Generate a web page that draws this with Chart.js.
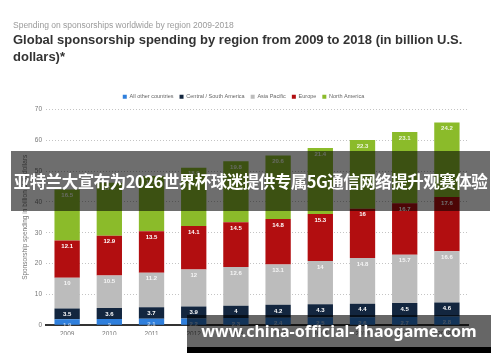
<!DOCTYPE html>
<html lang="en">
<head>
  <meta charset="UTF-8" />
  <title>Global sponsorship spending by region</title>
  <script src="https://cdn.jsdelivr.net/npm/chart.js"></script>
  <style>
    body {
      margin: 0;
      width: 500px;
      height: 362px;
      background: #fff;
      font-family: 'Liberation Sans', Arial, sans-serif;
      position: relative;
      overflow: hidden;
    }
    #wrap { position: absolute; left: 0; top: 0; width: 500px; height: 362px; }
    .sub {
      position: absolute; left: 13px; top: 20px;
      font-size: 8.5px; color: #9a9a9a; white-space: nowrap;
    }
    .titulo {
      position: absolute; left: 13px; top: 31px;
      font-size: 13px; font-weight: bold; color: #333; line-height: 17px;
      white-space: nowrap;
    }
    .faixa {
      position: absolute; left: 11px; top: 151px; width: 479px; height: 60px;
      background: rgba(0, 0, 0, 0.57);
      color: #fff; font-weight: bold; font-size: 16.5px;
      font-family: 'Noto Sans CJK SC', sans-serif;
      display: flex; align-items: center; justify-content: center;
      white-space: nowrap; letter-spacing: -0.5px;
    }
    .url {
      position: absolute; left: 187px; top: 315px; width: 304px; height: 32px;
      background: rgba(0, 0, 0, 0.6);
      border-bottom: 6px solid #000;
      color: #fff; font-weight: bold; font-size: 16px;
      font-family: 'Noto Sans', sans-serif;
      display: flex; align-items: center; justify-content: center;
      white-space: nowrap;
    }
  </style>
</head>
<body>
  <div id="wrap"><canvas id="grafico"></canvas></div>
  <div class="sub">Spending on sponsorships worldwide by region 2009-2018</div>
  <div class="titulo">Global sponsorship spending by region from 2009 to 2018 (in billion U.S.<br>dollars)*</div>
  <div class="faixa">亚特兰大宣布为2026世界杯球迷提供专属5G通信网络提升观赛体验</div>
  <div class="url">www.china-official-1haogame.com</div>

  <script>
    const anos = ['2009', '2010', '2011', '2012', '2013', '2014', '2015', '2016', '2017', '2018**'];
    const outrosPaises = [1.9, 2, 2.1, 2.2, 2.3, 2.4, 2.5, 2.6, 2.7, 2.8];
    const americaCentralSul = [3.5, 3.6, 3.7, 3.9, 4, 4.2, 4.3, 4.4, 4.5, 4.6];
    const asiaPacifico = [10, 10.5, 11.2, 12, 12.6, 13.1, 14, 14.8, 15.7, 16.6];
    const europa = [12.1, 12.9, 13.5, 14.1, 14.5, 14.8, 15.3, 16, 16.7, 17.6];
    const americaNorte = [16.5, 17.2, 17.9, 18.9, 19.8, 20.6, 21.4, 22.3, 23.1, 24.2];
    const ticksY = [0, 10, 20, 30, 40, 50, 60, 70];

    // rotulos brancos no topo de cada segmento
    const rotulos = {
      id: 'rotulos',
      afterDatasetsDraw(chart) {
        const ctx = chart.ctx;
        ctx.save();
        ctx.font = 'bold 6px "Liberation Sans", Arial, sans-serif';
        ctx.textAlign = 'center';
        ctx.textBaseline = 'middle';
        chart.data.datasets.forEach((ds, i) => {
          const meta = chart.getDatasetMeta(i);
          ctx.fillStyle = ds.corRotulo;
          meta.data.forEach((bar, j) => {
            ctx.fillText(String(ds.data[j]), bar.x, bar.y + 6);
          });
        });
        ctx.restore();
      }
    };

    new Chart(document.getElementById('grafico'), {
      type: 'bar',
      data: {
        labels: anos,
        datasets: [
          { label: 'All other countries', data: outrosPaises, backgroundColor: '#2f7fdc', corRotulo: 'rgba(255,255,255,0.6)' },
          { label: 'Central / South America', data: americaCentralSul, backgroundColor: '#13263f', corRotulo: '#ffffff' },
          { label: 'Asia Pacific', data: asiaPacifico, backgroundColor: '#bcbcbc', corRotulo: 'rgba(255,255,255,0.85)' },
          { label: 'Europe', data: europa, backgroundColor: '#b20e10', corRotulo: '#ffffff' },
          { label: 'North America', data: americaNorte, backgroundColor: '#8bbb2a', corRotulo: 'rgba(255,255,255,0.85)' }
        ]
      },
      options: {
        responsive: true,
        maintainAspectRatio: false,
        animation: false,
        layout: { padding: { top: 88, left: 19, right: 32, bottom: 27 } },
        datasets: { bar: { barPercentage: 0.6, categoryPercentage: 1 } },
        plugins: {
          legend: {
            position: 'top',
            labels: {
              boxWidth: 4, boxHeight: 4, padding: 6, color: '#666',
              font: { size: 5.5, family: '"Liberation Sans", Arial, sans-serif' }
            }
          },
          tooltip: { enabled: false }
        },
        scales: {
          x: {
            stacked: true,
            grid: { display: false },
            border: { color: '#333', width: 2 },
            ticks: { color: '#777', font: { size: 6.5 }, padding: -3, maxRotation: 0 }
          },
          y: {
            stacked: true,
            min: 0, max: 70,
            afterBuildTicks: axis => { axis.ticks = ticksY.map(v => ({ value: v })); },
            grid: { color: '#c4c4c4', drawTicks: false },
            border: { display: false, dash: [1, 2] },
            ticks: { color: '#777', font: { size: 6.5 }, padding: 4 },
            title: {
              display: true, text: 'Sponsorship spending in billion U.S. dollars',
              color: '#777', font: { size: 6.5 }, padding: 2
            }
          }
        }
      },
      plugins: [rotulos]
    });
  </script>
</body>
</html>
